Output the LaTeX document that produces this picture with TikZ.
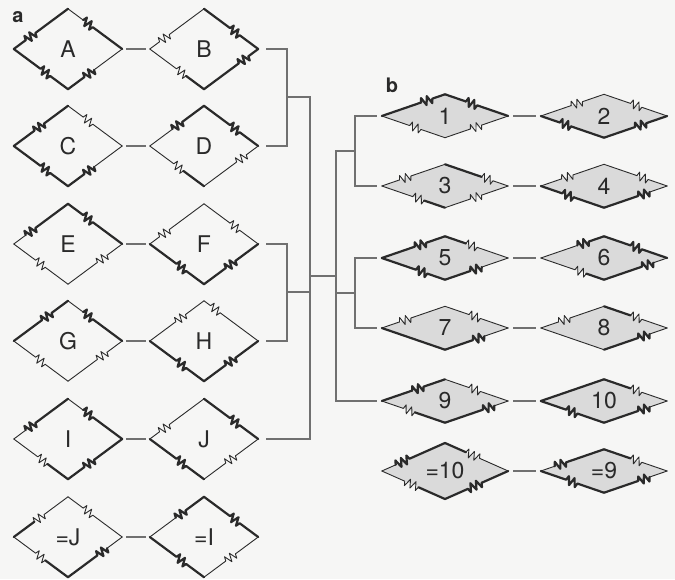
\documentclass[tikz,border=0pt]{standalone}
\usepackage{fontspec}
\setmainfont{TeX Gyre Heros}
\usetikzlibrary{shapes.geometric,decorations.pathmorphing,calc}

\definecolor{ink}{HTML}{2A2A2A}
\definecolor{wirecol}{HTML}{707070}
\definecolor{shade}{HTML}{DADADA}
\definecolor{paper}{HTML}{F6F6F5}

\tikzset{
  heavy/.style={draw=ink, line width=2.2pt, line cap=round, line join=round},
  light/.style={draw=ink, line width=0.9pt, line cap=round, line join=round},
  jag/.style={decoration={zigzag, segment length=6pt, amplitude=4.2pt}},
  wire/.style={draw=wirecol, line width=1.2pt},
  gem/.style={diamond, inner sep=0pt, minimum width=108pt, minimum height=80pt,
    text=ink, font=\fontsize{23}{25}\selectfont},
  flat/.style={gem, minimum width=126pt, minimum height=43pt, fill=shade},
  tag/.style={anchor=base, text=ink, font=\fontsize{20}{22}\selectfont\bfseries},
}

% one side of a crystal: style before the break, style after, break at fraction #6 (0 = no break)
\newcommand\rim[6]{%
  \ifdim #6pt=0pt
    \draw[#4] (#1.#2) -- (#1.#3);
  \else
    \draw[#4] (#1.#2) -- ($(#1.#2)!#6!(#1.#3)$);
    \draw[#5] ($(#1.#2)!#6!(#1.#3)$) decorate[jag] {-- ($(#1.#2)!#6+.22!(#1.#3)$)} -- (#1.#3);
  \fi}
% the four sides, going round from the west tip
\newcommand\crystal[5]{%
  \foreach \u/\v/\s/\t/\f in {west/north/#2, north/east/#3, east/south/#4, south/west/#5}
    {\rim{#1}{\u}{\v}{\s}{\t}{\f}}}

\begin{document}
\begin{tikzpicture}[x=1pt,y=-1pt]
  \fill[paper] (0,0) rectangle (675,579);
  \useasboundingbox (0,0) rectangle (675,579);

  % a: pairs of crystals
  \node[gem] (A) at (68,49) {A};
  \node[gem] (B) at (204,49) {B};
  \node[gem] (C) at (68,146) {C};
  \node[gem] (D) at (204,146) {D};
  \node[gem] (E) at (68,244) {E};
  \node[gem] (F) at (204,244) {F};
  \node[gem] (G) at (68,341) {G};
  \node[gem] (H) at (204,341) {H};
  \node[gem] (I) at (68,439) {I};
  \node[gem] (J) at (204,439) {J};
  \node[gem] (mJ) at (68,537) {=J};
  \node[gem] (mI) at (204,537) {=I};

  \crystal{A}{heavy/heavy/.22}{light/heavy/.28}{light/heavy/.52}{heavy/heavy/.33}
  \crystal{B}{light/light/.18}{heavy/heavy/.48}{heavy/heavy/.18}{heavy/light/.33}
  \crystal{C}{heavy/heavy/.38}{light/light/.28}{light/heavy/.52}{heavy/heavy/.33}
  \crystal{D}{light/heavy/.42}{heavy/heavy/.48}{light/light/.22}{heavy/light/.38}
  \crystal{E}{light/heavy/.22}{heavy/heavy/.28}{light/light/.28}{light/light/.42}
  \crystal{F}{light/light/.18}{light/light/.48}{heavy/heavy/.42}{heavy/heavy/.33}
  \crystal{G}{heavy/heavy/.52}{light/heavy/.28}{light/light/.28}{light/light/.42}
  \crystal{H}{light/light/.48}{light/light/.12}{heavy/heavy/.42}{heavy/heavy/.33}
  \crystal{I}{light/heavy/.22}{light/heavy/.28}{heavy/heavy/.52}{heavy/light/.38}
  \crystal{J}{light/light/.18}{heavy/heavy/.48}{light/light/.42}{heavy/heavy/.33}
  \crystal{mJ}{heavy/light/.38}{light/light/.28}{light/heavy/.28}{heavy/light/.42}
  \crystal{mI}{light/heavy/.48}{heavy/heavy/.48}{light/light/.42}{heavy/heavy/.33}

  % b: flattened crystals
  \node[flat] (n1) at (445,116) {1};
  \node[flat] (n2) at (604,116) {2};
  \node[flat] (n3) at (445,186) {3};
  \node[flat] (n4) at (604,186) {4};
  \node[flat] (n5) at (445,258) {5};
  \node[flat] (n6) at (604,258) {6};
  \node[flat] (n7) at (445,328) {7};
  \node[flat] (n8) at (604,328) {8};
  \node[flat] (n9) at (445,401) {9};
  \node[flat] (n10) at (604,401) {10};
  \node[flat] (m10) at (445,471) {=10};
  \node[flat] (m9) at (604,471) {=9};

  \crystal{n1}{heavy/heavy/.62}{heavy/heavy/.33}{light/light/.42}{light/light/.38}
  \crystal{n2}{light/light/.48}{light/light/.42}{heavy/heavy/.33}{heavy/heavy/.52}
  \crystal{n3}{light/light/.28}{heavy/light/.58}{light/light/.42}{heavy/light/.33}
  \crystal{n4}{light/light/.33}{light/light/.52}{light/heavy/.28}{heavy/heavy/.48}
  \crystal{n5}{heavy/heavy/.52}{heavy/light/.33}{light/heavy/.42}{heavy/heavy/.28}
  \crystal{n6}{light/heavy/.58}{heavy/heavy/.42}{light/heavy/.22}{heavy/light/.28}
  \crystal{n7}{light/light/.28}{light/light/.38}{light/heavy/.38}{heavy/heavy/0}
  \crystal{n8}{light/light/.28}{heavy/light/.42}{light/heavy/.28}{light/light/0}
  \crystal{n9}{heavy/heavy/.48}{light/light/.38}{light/heavy/.22}{heavy/light/.48}
  \crystal{n10}{heavy/heavy/0}{heavy/light/.42}{light/heavy/.28}{heavy/heavy/.42}
  \crystal{m10}{light/heavy/.22}{heavy/light/.33}{heavy/heavy/.42}{heavy/light/.42}
  \crystal{m9}{light/heavy/.22}{heavy/light/.42}{light/heavy/.28}{heavy/heavy/.42}

  \node[tag] (ta) at (18,22) {a};
  \node[tag] (tb) at (392,92) {b};

  % links inside each pair
  \foreach \p/\q in {A/B, C/D, E/F, G/H, I/J, mJ/mI}
    \draw[wire, shorten <=4pt, shorten >=4pt] (\p) -- (\q);
  \foreach \p/\q in {n1/n2, n3/n4, n5/n6, n7/n8, n9/n10, m10/m9}
    \draw[wire, shorten <=5pt, shorten >=5pt] (\p) -- (\q);

  % tree joining the pairs
  \coordinate (fBD) at (287,97);
  \coordinate (fFH) at (287,292);
  \coordinate (trunk) at (310,97);
  \coordinate (hubL) at (310,276);
  \coordinate (hubR) at (336,276);
  \coordinate (f13) at (355,151);
  \coordinate (f57) at (355,293);

  \draw[wire, shorten <=8pt, shorten >=8pt] (B) -| (fBD) |- (D);
  \draw[wire, shorten <=8pt, shorten >=8pt] (F) -| (fFH) |- (H);
  \draw[wire, shorten >=8pt] (fBD) -- (trunk) |- (J);
  \draw[wire] (fFH) -- (fFH -| trunk);
  \draw[wire] (hubL) -- (hubR);
  \draw[wire, shorten <=5pt, shorten >=5pt] (n1) -| (f13) |- (n3);
  \draw[wire, shorten <=5pt, shorten >=5pt] (n5) -| (f57) |- (n7);
  \draw[wire, shorten >=5pt] (f13) -- (f13 -| hubR) |- (n9);
  \draw[wire] (f57) -- (f57 -| hubR);
\end{tikzpicture}
\end{document}
